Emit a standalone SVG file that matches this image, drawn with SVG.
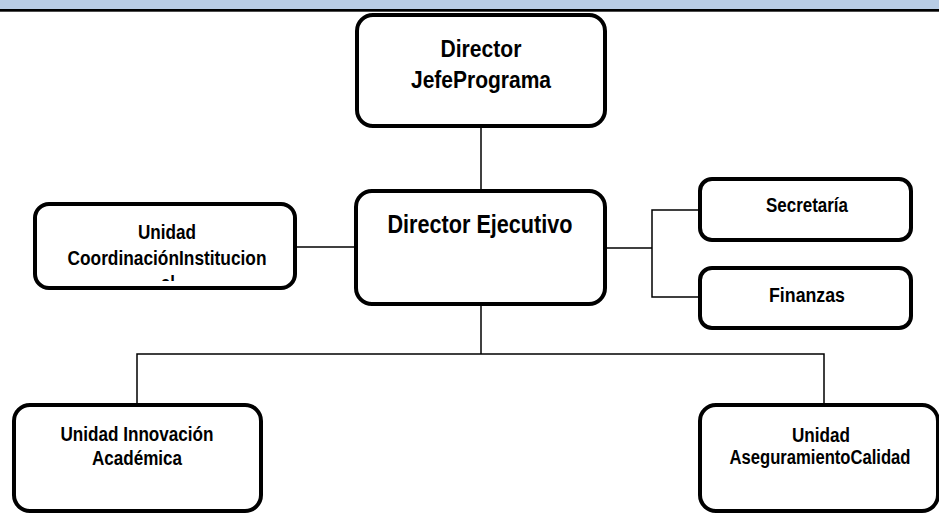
<svg xmlns="http://www.w3.org/2000/svg" width="939" height="515" viewBox="0 0 939 515">
<style>
.box{fill:#fff;stroke:#000;stroke-width:4}
.t{font-family:"Liberation Sans",Arial,sans-serif;font-weight:bold;fill:#000;text-anchor:middle}
.big{font-size:24px}
.sm{font-size:20px}
.conn{fill:none;stroke:#000;stroke-width:1.5}
</style>
<defs>
<clipPath id="clipLeft"><rect x="35" y="204" width="260" height="77"/></clipPath>
</defs>
<rect width="939" height="515" fill="#fff"/>
<g id="header">
<rect x="0" y="0" width="939" height="9" fill="#b8cce4"/>
<rect x="0" y="9" width="939" height="2.7" fill="#000"/>
</g>
<g id="connectors">
<line class="conn" x1="481" y1="128" x2="481" y2="189"/>
<line class="conn" x1="481" y1="306" x2="481" y2="354"/>
<polyline class="conn" points="137,403 137,354 824,354 824,403"/>
<line class="conn" x1="297" y1="247" x2="354" y2="247"/>
<line class="conn" x1="607" y1="248" x2="652" y2="248"/>
<polyline class="conn" points="698,210 652,210 652,297 698,297"/>
</g>
<g id="director-jefe">
<rect class="box" x="357" y="15" width="248" height="111" rx="16"/>
<text class="t big" x="481" y="57" textLength="81" lengthAdjust="spacingAndGlyphs">Director</text>
<text class="t big" x="481" y="88" textLength="140" lengthAdjust="spacingAndGlyphs">JefePrograma</text>
</g>
<g id="director-ejecutivo">
<rect class="box" x="356" y="191" width="249" height="113" rx="16"/>
<text class="t" font-size="25" x="480" y="233" textLength="185" lengthAdjust="spacingAndGlyphs">Director Ejecutivo</text>
</g>
<g id="unidad-coordinacion">
<rect class="box" x="35" y="204" width="260" height="84" rx="14"/>
<text class="t sm" x="167" y="239" textLength="58" lengthAdjust="spacingAndGlyphs">Unidad</text>
<text class="t sm" x="167" y="265" textLength="199" lengthAdjust="spacingAndGlyphs">CoordinaciónInstitucion</text>
<text class="t sm" x="168" y="290" textLength="14" lengthAdjust="spacingAndGlyphs" clip-path="url(#clipLeft)">al</text>
</g>
<g id="secretaria">
<rect class="box" x="700" y="179" width="211" height="61" rx="12"/>
<text class="t sm" x="807" y="212" textLength="82" lengthAdjust="spacingAndGlyphs">Secretaría</text>
</g>
<g id="finanzas">
<rect class="box" x="700" y="268" width="211" height="60" rx="12"/>
<text class="t sm" x="807" y="302" textLength="76" lengthAdjust="spacingAndGlyphs">Finanzas</text>
</g>
<g id="unidad-innovacion">
<rect class="box" x="14" y="405" width="247" height="106" rx="16"/>
<text class="t sm" x="137" y="441" textLength="153" lengthAdjust="spacingAndGlyphs">Unidad Innovación</text>
<text class="t sm" x="137" y="465" textLength="90" lengthAdjust="spacingAndGlyphs">Académica</text>
</g>
<g id="unidad-aseguramiento">
<rect class="box" x="700" y="405" width="238" height="106" rx="16"/>
<text class="t sm" x="821" y="442" textLength="58" lengthAdjust="spacingAndGlyphs">Unidad</text>
<text class="t sm" x="820" y="464" textLength="181" lengthAdjust="spacingAndGlyphs">AseguramientoCalidad</text>
</g>
</svg>
